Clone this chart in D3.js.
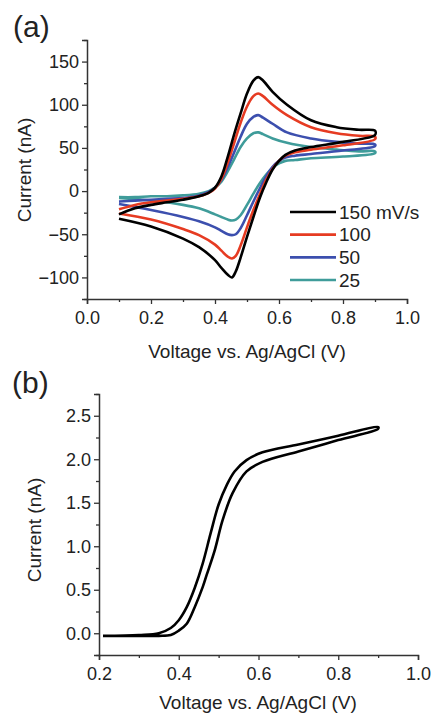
<!DOCTYPE html>
<html>
<head>
<meta charset="utf-8">
<script src="https://cdnjs.cloudflare.com/ajax/libs/d3/7.8.5/d3.min.js"></script>
<style>
  body { margin: 0; background: #fff; }
  text { font-family: "Liberation Sans", Arial, sans-serif; fill: #222; }
</style>
</head>
<body>
<div id="chart"></div>
<script>
// ---- panel (a): cyclic voltammograms at several scan rates ----
var rateLabels = ["150 mV/s", "100", "50", "25"];
var rateColors = ["#000000", "#e63b22", "#3c4fae", "#3f9c9a"];

// anodic sweep (0.1 -> 0.9 V)
var vUp = [0.1, 0.15, 0.2, 0.25, 0.3, 0.35, 0.38, 0.4, 0.42, 0.44, 0.46, 0.48, 0.5, 0.52, 0.535, 0.55, 0.58, 0.625, 0.7, 0.78, 0.85, 0.9];
var up150 = [-27, -20, -16, -13, -10, -6, -2, 4, 17, 40, 66, 90, 113, 128, 132, 128, 115, 100, 82, 74, 71, 70];
var up100 = [-21, -16, -13, -11, -9, -6, -2, 3, 14, 33, 56, 79, 98, 110, 113, 110, 100, 88, 74, 67, 64, 63];
var up50  = [-12, -11, -10, -9, -8, -5, -1, 4, 13, 28, 45, 63, 78, 86, 88, 85, 78, 68, 61, 57, 55, 54];
var up25  = [-7, -7, -6, -6, -5, -3, 0, 4, 11, 23, 37, 51, 61, 67, 68, 66, 61, 56, 51, 48, 46, 46];

// cathodic sweep (0.9 -> 0.1 V)
var vDown = [0.9, 0.8, 0.7, 0.65, 0.62, 0.6, 0.58, 0.56, 0.54, 0.52, 0.5, 0.48, 0.465, 0.453, 0.44, 0.42, 0.4, 0.35, 0.3, 0.2, 0.1];
var down150 = [65, 57, 51, 47, 42, 35, 25, 10, -8, -30, -53, -77, -93, -100, -97, -89, -80, -65, -55, -41, -32];
var down100 = [60, 53, 48, 45, 41, 35, 26, 13, -4, -22, -42, -63, -75, -78, -76, -69, -62, -51, -44, -33, -26];
var down50  = [52, 47, 43, 41, 39, 35, 28, 17, 3, -12, -28, -43, -50, -51, -50, -46, -42, -35, -30, -22, -15];
var down25  = [44, 40, 38, 36, 35, 32, 27, 19, 9, -3, -16, -28, -33, -34, -33, -30, -27, -20, -16, -11, -8];

var upSeries = [up150, up100, up50, up25];
var downSeries = [down150, down100, down50, down25];

var xTicksA = [0.0, 0.2, 0.4, 0.6, 0.8, 1.0];
var yTicksA = [-100, -50, 0, 50, 100, 150];

// ---- panel (b): single voltammogram ----
var vFwd = [0.21, 0.3, 0.35, 0.38, 0.4, 0.42, 0.44, 0.46, 0.47, 0.49, 0.51, 0.535, 0.57, 0.61, 0.7, 0.8, 0.9];
var iFwd = [-0.03, -0.03, -0.03, -0.02, 0.03, 0.11, 0.3, 0.53, 0.67, 0.95, 1.3, 1.61, 1.86, 1.97, 2.09, 2.22, 2.35];
var vRev = [0.9, 0.8, 0.7, 0.61, 0.57, 0.54, 0.52, 0.5, 0.48, 0.46, 0.44, 0.42, 0.4, 0.38, 0.35, 0.3, 0.21];
var iRev = [2.37, 2.27, 2.17, 2.08, 1.99, 1.86, 1.7, 1.48, 1.15, 0.8, 0.52, 0.3, 0.15, 0.06, 0.0, -0.02, -0.03];

var xTicksB = [0.2, 0.4, 0.6, 0.8, 1.0];
var yTicksB = [0.0, 0.5, 1.0, 1.5, 2.0, 2.5];

var svg = d3.select("#chart").append("svg")
  .attr("width", 432).attr("height", 713);

var axisColor = "#333";

// draw an axis with labelled majors and short unlabelled minors
function drawAxis(g, axisFn, scale, majors, minors, fmt) {
  g.append("g").call(axisFn(scale).tickValues(minors).tickSize(3).tickFormat(""))
    .call(function (s) { s.select(".domain").remove(); });
  var a = g.append("g").call(axisFn(scale).tickValues(majors).tickSize(5).tickPadding(3).tickFormat(fmt));
  a.select(".domain").attr("stroke", axisColor).attr("stroke-width", 1.5);
  a.selectAll("text").style("font-size", "18px").attr("fill", "#222");
  g.selectAll(".tick line").attr("stroke", axisColor).attr("stroke-width", 1.3);
  return a;
}

// ---------- panel (a) ----------
var xA = d3.scaleLinear().domain([0, 1]).range([87, 407]);
var yA = d3.scaleLinear().domain([-125, 175]).range([299, 40]);

var gAx = svg.append("g").attr("transform", "translate(0,299)");
var ax = drawAxis(gAx, d3.axisBottom, xA, xTicksA, [0.1, 0.3, 0.5, 0.7, 0.9], d3.format(".1f"));
ax.selectAll("text").attr("y", 12);

var gAy = svg.append("g").attr("transform", "translate(87,0)");
drawAxis(gAy, d3.axisLeft, yA, yTicksA, [-125, -75, -25, 25, 75, 125, 175], d3.format("d"));

var lineA = d3.line()
  .x(function (d) { return xA(d[0]); })
  .y(function (d) { return yA(d[1]); })
  .curve(d3.curveCatmullRom.alpha(0.5));

// draw slowest first so black lies on top
for (var k = upSeries.length - 1; k >= 0; k--) {
  var pts = vUp.map(function (v, i) { return [v, upSeries[k][i]]; })
    .concat(vDown.map(function (v, i) { return [v, downSeries[k][i]]; }));
  svg.append("path")
    .attr("d", lineA(pts))
    .attr("fill", "none")
    .attr("stroke", rateColors[k])
    .attr("stroke-width", 2.6)
    .attr("stroke-linejoin", "round");
}

// legend
var legendY = d3.scaleLinear().domain([0, 3]).range([212, 280]);
rateLabels.forEach(function (lab, i) {
  svg.append("line")
    .attr("x1", 290).attr("x2", 336)
    .attr("y1", legendY(i)).attr("y2", legendY(i))
    .attr("stroke", rateColors[i]).attr("stroke-width", 2.6);
  svg.append("text")
    .attr("x", 339).attr("y", legendY(i)).attr("dy", "0.35em")
    .style("font-size", "19px")
    .text(lab);
});

svg.append("text").attr("x", 247).attr("y", 358)
  .attr("text-anchor", "middle").style("font-size", "19px")
  .text("Voltage vs. Ag/AgCl (V)");
svg.append("text").attr("transform", "translate(31,170) rotate(-90)")
  .attr("text-anchor", "middle").style("font-size", "19px")
  .text("Current (nA)");
svg.append("text").attr("x", 13).attr("y", 37)
  .style("font-size", "30px").text("(a)");

// ---------- panel (b) ----------
var xB = d3.scaleLinear().domain([0.2, 1.0]).range([99, 418]);
var yB = d3.scaleLinear().domain([-0.25, 2.75]).range([655, 394]);

var gBx = svg.append("g").attr("transform", "translate(0,655)");
var bx = drawAxis(gBx, d3.axisBottom, xB, xTicksB, [0.3, 0.5, 0.7, 0.9], d3.format(".1f"));
bx.selectAll("text").attr("y", 12);

var gBy = svg.append("g").attr("transform", "translate(99,0)");
drawAxis(gBy, d3.axisLeft, yB, yTicksB, [-0.25, 0.25, 0.75, 1.25, 1.75, 2.25, 2.75], d3.format(".1f"));

var lineB = d3.line()
  .x(function (d) { return xB(d[0]); })
  .y(function (d) { return yB(d[1]); })
  .curve(d3.curveCatmullRom.alpha(0.5));

var ptsB = vFwd.map(function (v, i) { return [v, iFwd[i]]; })
  .concat(vRev.map(function (v, i) { return [v, iRev[i]]; }));
svg.append("path")
  .attr("d", lineB(ptsB))
  .attr("fill", "none")
  .attr("stroke", "#000")
  .attr("stroke-width", 2.6)
  .attr("stroke-linejoin", "round");

svg.append("text").attr("x", 258).attr("y", 709)
  .attr("text-anchor", "middle").style("font-size", "19px")
  .text("Voltage vs. Ag/AgCl (V)");
svg.append("text").attr("transform", "translate(41,530) rotate(-90)")
  .attr("text-anchor", "middle").style("font-size", "19px")
  .text("Current (nA)");
svg.append("text").attr("x", 12).attr("y", 393)
  .style("font-size", "30px").text("(b)");
</script>
</body>
</html>
